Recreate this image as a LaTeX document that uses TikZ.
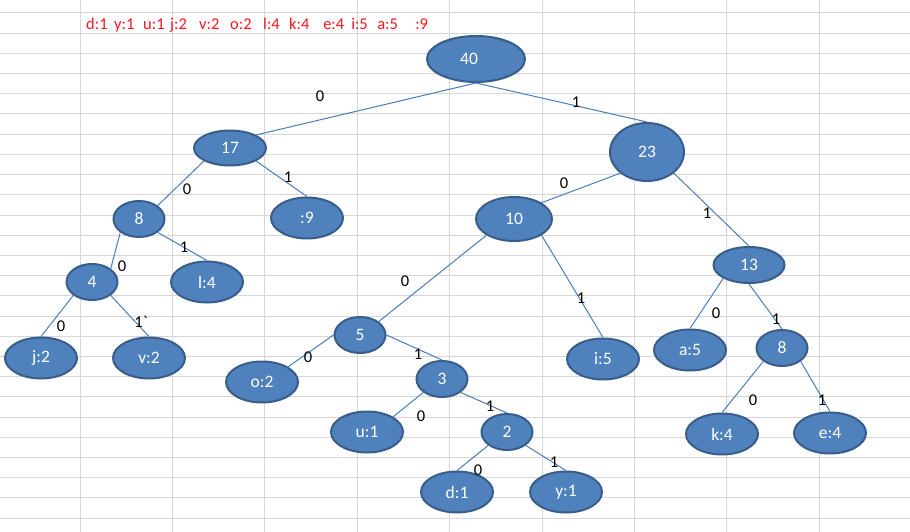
\documentclass[tikz,border=0pt]{standalone}
\usepackage{fontspec}
\setmainfont{Carlito}
\usetikzlibrary{shapes.geometric}

\definecolor{nodefill}{RGB}{79,129,189}
\definecolor{nodeline}{RGB}{56,93,138}
\definecolor{linkblue}{RGB}{74,126,187}
\definecolor{gridgray}{RGB}{214,214,214}
\definecolor{freqred}{RGB}{255,20,30}

\tikzset{
  hnode/.style={ellipse, draw=nodeline, line width=2pt, fill=nodefill, text=white,
    inner sep=0pt, font=\fontsize{17.5}{20}\selectfont},
  sumnode/.style={hnode, minimum width=51pt, minimum height=36pt},
  leafnode/.style={hnode, minimum width=72pt, minimum height=41pt},
  link/.style={draw=linkblue, line width=1pt},
  bit/.style={inner sep=0pt, text=black, font=\fontsize{16.5}{19}\selectfont},
  gridline/.style={draw=gridgray, line width=1pt}
}

\begin{document}
\begin{tikzpicture}[x=1pt,y=-1pt]
\useasboundingbox[fill=white] (0,0) rectangle (910,532);

% sheet grid
\foreach \i in {0,...,8}
  \draw[gridline] ({80+92.4*\i},0) -- ({80+92.4*\i},532);
\foreach \j in {0,...,25}
  \draw[gridline] (0,{13+20.2*\j}) -- (910,{13+20.2*\j});

% frequencies
\node[anchor=west, inner sep=0pt, text=freqred, font=\fontsize{16.5}{19}\selectfont] (freq) at (86,25)
  {\makebox[28pt][l]{d:1}\makebox[29pt][l]{y:1}\makebox[27pt][l]{u:1}\makebox[29pt][l]{j:2}%
   \makebox[31pt][l]{v:2}\makebox[33pt][l]{o:2}\makebox[26pt][l]{l:4}\makebox[34pt][l]{k:4}%
   \makebox[28pt][l]{e:4}\makebox[26pt][l]{i:5}\makebox[38pt][l]{a:5}:9};

% tree
\node[hnode, minimum width=98pt, minimum height=46pt] (n40) at (476,59) {40\hspace*{14pt}};
\node[hnode, minimum width=72pt, minimum height=35pt] (n17) at (230,148) {17};
\node[hnode, minimum width=74pt, minimum height=58pt] (n23) at (647,152) {23};
\node[sumnode] (n8a) at (139,219) {8};
\node[leafnode] (n9) at (307,218) {:9};
\node[sumnode] (n4) at (92,282) {4};
\node[leafnode] (nl) at (207,282) {l:4};
\node[leafnode] (nj) at (41,358) {j:2};
\node[leafnode] (nv) at (149,358) {v:2};
\node[hnode, minimum width=76pt, minimum height=44pt] (n10) at (514,219) {10};
\node[hnode, minimum width=71pt, minimum height=36pt] (n13) at (749,265) {13};
\node[sumnode] (n5) at (360,335) {5};
\node[leafnode] (no) at (262,382) {o:2};
\node[sumnode] (n3) at (442,379) {3};
\node[leafnode] (nu) at (367,432) {u:1};
\node[sumnode] (n2) at (507,432) {2};
\node[leafnode] (nd) at (457,492) {d:1};
\node[leafnode] (ny) at (566,492) {y:1};
\node[leafnode] (ni) at (603,359) {i:5};
\node[leafnode] (na) at (690,350) {a:5};
\node[sumnode] (n8b) at (782,348) {8};
\node[leafnode] (nk) at (722,434) {k:4};
\node[leafnode] (ne) at (830,433) {e:4};

% branches
\draw[link] (n40.south) -- (n17.north east) node[bit, at={(320,96)}] {0};
\draw[link] (n40.south) -- (n23.north) node[bit, at={(576,102)}] {1};
\draw[link] (n17.south west) -- (n8a.north east) node[bit, at={(187,189)}] {0};
\draw[link] (n17.south east) -- (n9.north) node[bit, at={(288,177)}] {1};
\draw[link] (n8a.south west) -- (n4.north east) node[bit, at={(122,266)}] {0};
\draw[link] (n8a.south east) -- (nl.north) node[bit, at={(184,247)}] {1};
\draw[link] (n4.south west) -- (nj.north) node[bit, at={(61,326)}] {0};
\draw[link] (n4.south east) -- (nv.north) node[bit, at={(141,322)}] {1\textasciigrave};
\draw[link] (n23.south west) -- (n10.north east) node[bit, at={(564,183)}] {0};
\draw[link] (n23.south east) -- (n13.north) node[bit, at={(707,213)}] {1};
\draw[link] (n10.south west) -- (n5.north east) node[bit, at={(405,281)}] {0};
\draw[link] (n10.south east) -- (ni.north) node[bit, at={(581,298)}] {1};
\draw[link] (n5.west) -- (no.north east) node[bit, at={(308,357)}] {0};
\draw[link] (n5.east) -- (n3.north) node[bit, at={(418,354)}] {1};
\draw[link] (n3.south west) -- (nu.north east) node[bit, at={(421,416)}] {0};
\draw[link] (n3.south east) -- (n2.north) node[bit, at={(490,406)}] {1};
\draw[link] (n2.south west) -- (nd.north) node[bit, at={(478,470)}] {0};
\draw[link] (n2.south east) -- (ny.north) node[bit, at={(554,462)}] {1};
\draw[link] (n13.south west) -- (na.north) node[bit, at={(716,313)}] {0};
\draw[link] (n13.south) -- (n8b.north) node[bit, at={(776,319)}] {1};
\draw[link] (n8b.south west) -- (nk.north) node[bit, at={(753,400)}] {0};
\draw[link] (n8b.south east) -- (ne.north) node[bit, at={(822,400)}] {1};
\end{tikzpicture}
\end{document}
